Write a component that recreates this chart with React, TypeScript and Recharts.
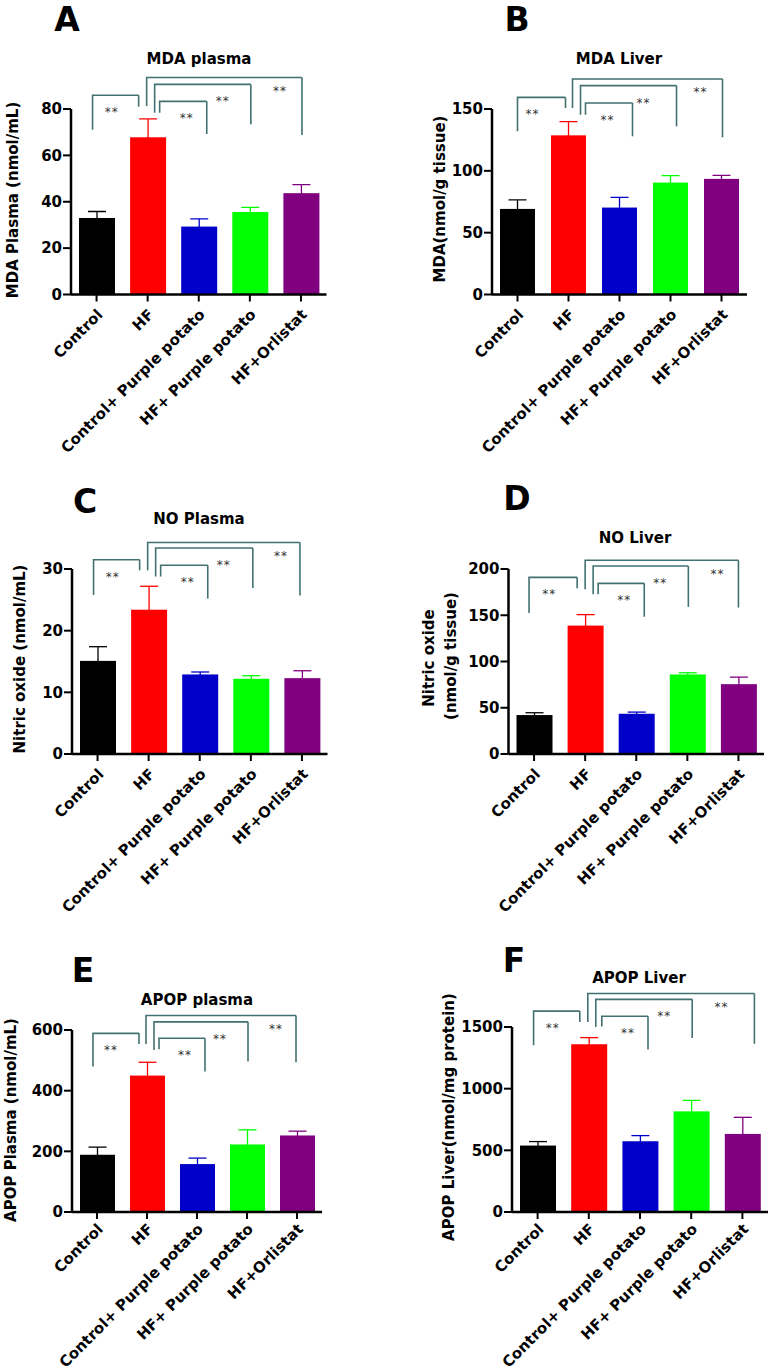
import React from 'react';
import { BarChart, Bar, XAxis, YAxis, ReferenceLine } from 'recharts';

const groups = ['Control', 'HF', 'Control+ Purple potato', 'HF+ Purple potato', 'HF+Orlistat'];
const barColors = ['#000000', '#ff0000', '#0000c8', '#00ff00', '#800080'];
const comparisons = [[0, 1], [1, 2], [1, 3], [1, 4]];

// A - MDA plasma
const mdaPlasmaMean = [33.0, 67.8, 29.3, 35.6, 43.7];
const mdaPlasmaSem = [2.8, 7.9, 3.3, 2.0, 3.7];
const mdaPlasmaTicks = [0, 20, 40, 60, 80];
const mdaPlasmaBracketTop = [85.9, 83.3, 90.6, 93.6];
const mdaPlasmaBracketLeft = [71.0, 78.4, 78.4, 81.3];
const mdaPlasmaBracketRight = [81.0, 69.2, 73.4, 68.8];

// B - MDA liver
const mdaLiverMean = [69.2, 128.7, 70.3, 90.5, 93.5];
const mdaLiverSem = [7.3, 11.1, 8.3, 5.6, 2.9];
const mdaLiverTicks = [0, 50, 100, 150];
const mdaLiverBracketTop = [159.4, 154.9, 168.9, 174.3];
const mdaLiverBracketLeft = [132, 145.4, 145.4, 150.8];
const mdaLiverBracketRight = [150.8, 127.9, 136, 127.1];

// C - NO plasma
const noPlasmaMean = [15.1, 23.4, 12.9, 12.2, 12.3];
const noPlasmaSem = [2.3, 3.8, 0.4, 0.5, 1.2];
const noPlasmaTicks = [0, 10, 20, 30];
const noPlasmaBracketTop = [31.5, 30.6, 33.4, 34.3];
const noPlasmaBracketLeft = [25.8, 28.8, 28.8, 29.8];
const noPlasmaBracketRight = [29.8, 25.2, 26.9, 25.7];

// D - NO liver
const noLiverMean = [42.1, 138.8, 43.5, 86.0, 75.5];
const noLiverSem = [2.5, 11.9, 1.8, 1.8, 7.6];
const noLiverTicks = [0, 50, 100, 150, 200];
const noLiverBracketTop = [191, 184.5, 203.2, 209.4];
const noLiverBracketLeft = [152.5, 172.6, 172.6, 178];
const noLiverBracketRight = [179.1, 148.4, 159, 158.3];

// E - APOP plasma
const apopPlasmaMean = [188.7, 449.7, 158, 222.7, 252.3];
const apopPlasmaSem = [25.2, 43.9, 19.7, 48.2, 14.2];
const apopPlasmaTicks = [0, 200, 400, 600];
const apopPlasmaBracketTop = [589, 573, 626.9, 647.8];
const apopPlasmaBracketLeft = [479.3, 536.4, 534.2, 553.9];
const apopPlasmaBracketRight = [553.9, 462.9, 495.8, 493.6];

// F - APOP liver
const apopLiverMean = [538.6, 1360, 573.7, 816, 633];
const apopLiverSem = [32.4, 54, 45.7, 89, 134.6];
const apopLiverTicks = [0, 500, 1000, 1500];
const apopLiverBracketTop = [1629, 1587, 1724, 1772];
const apopLiverBracketLeft = [1352, 1505, 1500, 1540];
const apopLiverBracketRight = [1540, 1318, 1410, 1364];

const FONT = '"DejaVu Sans", sans-serif';
const BRACKET = '#417171';
const STAR_DX = [-36, -12, -27, -21];
const STAR_DY = [21, 21, 21, 17.5];

const panels = [
  {
    mean: mdaPlasmaMean, sem: mdaPlasmaSem, ticks: mdaPlasmaTicks,
    top: mdaPlasmaBracketTop, left: mdaPlasmaBracketLeft, right: mdaPlasmaBracketRight,
    box: [0, 0, 385, 460], plot: [71, 109, 326.5, 294.5], barSize: 36, tickDy: 12,
    legDx: [[-4, -9], [12, 8], [7, 1], [-1, 1]],
  },
  {
    mean: mdaLiverMean, sem: mdaLiverSem, ticks: mdaLiverTicks,
    top: mdaLiverBracketTop, left: mdaLiverBracketLeft, right: mdaLiverBracketRight,
    box: [385, 0, 385, 460], plot: [492, 109, 747, 294.5], barSize: 35, tickDy: 12,
    legDx: [[0, -3], [17, 13], [12, 6], [4, 1]],
  },
  {
    mean: noPlasmaMean, sem: noPlasmaSem, ticks: noPlasmaTicks,
    top: noPlasmaBracketTop, left: noPlasmaBracketLeft, right: noPlasmaBracketRight,
    box: [0, 450, 385, 470], plot: [72, 569, 327.5, 754], barSize: 36, tickDy: 12,
    legDx: [[-4, -9], [12, 8], [7, 2], [-1, -2]],
  },
  {
    mean: noLiverMean, sem: noLiverSem, ticks: noLiverTicks,
    top: noLiverBracketTop, left: noLiverBracketLeft, right: noLiverBracketRight,
    box: [385, 450, 385, 470], plot: [508.5, 569, 764, 754], barSize: 36, tickDy: 12,
    legDx: [[-5, -8], [13, 8], [8, 1], [0, 0]],
  },
  {
    mean: apopPlasmaMean, sem: apopPlasmaSem, ticks: apopPlasmaTicks,
    top: apopPlasmaBracketTop, left: apopPlasmaBracketLeft, right: apopPlasmaBracketRight,
    box: [0, 900, 385, 470], plot: [72, 1030, 322, 1212], barSize: 35, tickDy: 9,
    legDx: [[-4, -8], [12, 8], [7, 1], [-1, -1]],
  },
  {
    mean: apopLiverMean, sem: apopLiverSem, ticks: apopLiverTicks,
    top: apopLiverBracketTop, left: apopLiverBracketLeft, right: apopLiverBracketRight,
    box: [385, 900, 385, 470], plot: [512, 1027, 768, 1212], barSize: 36, tickDy: 9,
    legDx: [[-4, -9], [13, 8], [7, 1], [-1, 12]],
  },
];

const titles = [
  { text: 'MDA plasma', x: 199, y: 58 },
  { text: 'MDA Liver', x: 619, y: 58 },
  { text: 'NO Plasma', x: 199, y: 518 },
  { text: 'NO Liver', x: 635, y: 537 },
  { text: 'APOP plasma', x: 197, y: 999 },
  { text: 'APOP Liver', x: 639, y: 977 },
];

const letters = [
  { text: 'A', x: 67, y: 19 },
  { text: 'B', x: 517, y: 19 },
  { text: 'C', x: 85, y: 501 },
  { text: 'D', x: 517, y: 497.5 },
  { text: 'E', x: 83, y: 970 },
  { text: 'F', x: 514, y: 960 },
];

const yLabels = [
  { text: 'MDA Plasma (nmol/mL)', x: 12.5, y: 200 },
  { text: 'MDA(nmol/g tissue)', x: 439, y: 199 },
  { text: 'Nitric oxide (nmol/mL)', x: 19, y: 659 },
  { text: 'Nitric oxide', x: 428, y: 658 },
  { text: '(nmol/g tissue)', x: 450, y: 656 },
  { text: 'APOP Plasma (nmol/mL)', x: 10, y: 1120 },
  { text: 'APOP Liver(nmol/mg protein)', x: 448, y: 1117 },
];

const BarWithError = (props: any) => {
  const { x, y, width, height, payload } = props;
  const color = barColors[groups.indexOf(payload.name)];
  const perUnit = payload.value ? height / payload.value : 0;
  const errTop = y - payload.sem * perUnit;
  const cx = x + width / 2;
  return (
    <g>
      <line x1={cx} y1={y + 2} x2={cx} y2={errTop} stroke={color} strokeWidth={1.3} />
      <line x1={cx - 9} y1={errTop} x2={cx + 9} y2={errTop} stroke={color} strokeWidth={1.3} />
      <rect x={x} y={y} width={width} height={height} fill={color} />
    </g>
  );
};

const SlantTick = (props: any) => {
  const { x, y, payload, dyExtra } = props;
  const ax = x + 7;
  const ay = y + dyExtra;
  return (
    <text x={ax} y={ay} transform={`rotate(-45 ${ax} ${ay})`} textAnchor="end"
      fontFamily={FONT} fontWeight="bold" fontSize={15} fill="#000">
      {payload.value}
    </text>
  );
};

function Panel({ cfg }: { cfg: any }) {
  const [bl, bt, bw, bh] = cfg.box;
  const [pl, pt, pr, pb] = cfg.plot;
  const rows = groups.map((name, i) => ({ name, value: cfg.mean[i], sem: cfg.sem[i] }));
  const yMax = cfg.ticks[cfg.ticks.length - 1];

  const brackets: any[] = [];
  comparisons.forEach(([a, b], i) => {
    const [dl, dr] = cfg.legDx[i];
    brackets.push(
      <ReferenceLine
        key={`bl${i}`}
        segment={[{ x: groups[a], y: cfg.left[i] }, { x: groups[b], y: cfg.top[i] }]}
        ifOverflow="visible"
        shape={(p: any) => (
          <path d={`M${p.x1 + dl},${p.y1}V${p.y2}H${p.x2 + dr}`} fill="none"
            stroke={BRACKET} strokeWidth={1.6} />
        )}
      />
    );
    brackets.push(
      <ReferenceLine
        key={`br${i}`}
        segment={[{ x: groups[b], y: cfg.top[i] }, { x: groups[b], y: cfg.right[i] }]}
        ifOverflow="visible"
        shape={(p: any) => (
          <g>
            <path d={`M${p.x1 + dr},${p.y1}V${p.y2}`} fill="none" stroke={BRACKET} strokeWidth={1.6} />
            <text x={p.x1 + STAR_DX[i]} y={p.y1 + STAR_DY[i]} textAnchor="middle"
              fontFamily={FONT} fontSize={12} letterSpacing={1} fill="#333">**</text>
          </g>
        )}
      />
    );
  });

  return (
    <div style={{ position: 'absolute', left: bl, top: bt }}>
      <BarChart
        width={bw}
        height={bh}
        data={rows}
        margin={{ top: pt - bt, right: bl + bw - pr, bottom: 0, left: 0 }}
      >
        <XAxis
          dataKey="name"
          height={bt + bh - pb}
          interval={0}
          tickSize={7}
          tickMargin={2}
          axisLine={{ stroke: '#000', strokeWidth: 2.5 }}
          tickLine={{ stroke: '#000', strokeWidth: 2 }}
          tick={(p: any) => <SlantTick {...p} dyExtra={cfg.tickDy} />}
        />
        <YAxis
          width={pl - bl}
          domain={[0, yMax]}
          ticks={cfg.ticks}
          interval={0}
          tickSize={8}
          tickMargin={1}
          allowDataOverflow
          axisLine={{ stroke: '#000', strokeWidth: 2.5 }}
          tickLine={{ stroke: '#000', strokeWidth: 2 }}
          tick={{ fill: '#000', fontSize: 15, fontWeight: 'bold', fontFamily: FONT }}
        />
        <Bar dataKey="value" barSize={cfg.barSize} isAnimationActive={false}
          shape={(p: any) => <BarWithError {...p} />} />
        {brackets}
      </BarChart>
    </div>
  );
}

export default function App() {
  return (
    <div style={{ position: 'absolute', left: 0, top: 0, width: 770, height: 1370, background: '#fff', overflow: 'hidden' }}>
      {panels.map((cfg, i) => (
        <Panel key={i} cfg={cfg} />
      ))}
      <svg width={770} height={1370} style={{ position: 'absolute', left: 0, top: 0, pointerEvents: 'none' }}>
        {titles.map((t) => (
          <text key={t.text} x={t.x} y={t.y + 5.5} textAnchor="middle" fontFamily={FONT}
            fontWeight="bold" fontSize={15} fill="#000">{t.text}</text>
        ))}
        {letters.map((t) => (
          <text key={t.text} x={t.x} y={t.y + 12} textAnchor="middle" fontFamily={FONT}
            fontWeight="bold" fontSize={33} fill="#000">{t.text}</text>
        ))}
        {yLabels.map((t) => (
          <text key={t.text} x={t.x} y={t.y + 5.5} textAnchor="middle" fontFamily={FONT}
            fontWeight="bold" fontSize={15} fill="#000"
            transform={`rotate(-90 ${t.x} ${t.y})`}>{t.text}</text>
        ))}
      </svg>
    </div>
  );
}
